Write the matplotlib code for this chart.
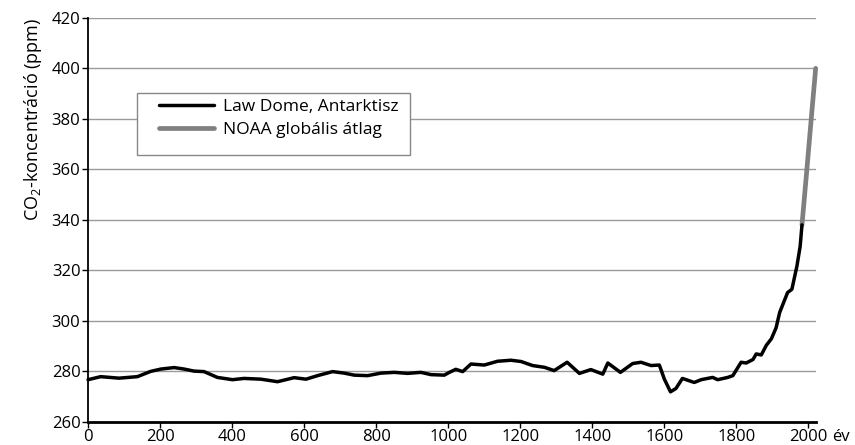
import matplotlib.pyplot as plt
from matplotlib.patches import Rectangle

plt.rcParams['font.family'] = ['Open Sans', 'DejaVu Sans']
plt.rcParams['mathtext.fontset'] = 'custom'
plt.rcParams['mathtext.rm'] = 'Open Sans'
plt.rcParams['mathtext.it'] = 'Open Sans:italic'

# Law Dome jégmag adatai
law_ev = [0, 35, 86, 137, 174, 202, 239, 267, 294, 322, 359, 401, 433, 480, 526,
          572, 605, 637, 679, 711, 739, 776, 813, 850, 887, 924, 952, 989, 1003,
          1021, 1040, 1063, 1100, 1137, 1174, 1202, 1234, 1267, 1294, 1330, 1364,
          1396, 1429, 1443, 1478, 1512, 1535, 1563, 1586, 1600, 1617, 1632, 1650,
          1683, 1702, 1734, 1748, 1776, 1790, 1813, 1827, 1846, 1855, 1869, 1883,
          1897, 1910, 1920, 1942, 1954, 1968, 1977, 1982]
law_co2 = [276.7, 277.9, 277.3, 277.9, 280.0, 280.9, 281.5, 280.9, 280.1, 279.9,
           277.6, 276.7, 277.2, 276.9, 275.9, 277.5, 276.9, 278.3, 279.9, 279.3,
           278.5, 278.3, 279.3, 279.6, 279.2, 279.6, 278.7, 278.5, 279.6, 280.8,
           279.9, 282.9, 282.5, 284.0, 284.4, 283.9, 282.3, 281.6, 280.3, 283.6,
           279.2, 280.7, 278.9, 283.3, 279.6, 283.1, 283.6, 282.3, 282.5, 276.9,
           271.9, 273.2, 277.2, 275.6, 276.7, 277.6, 276.7, 277.6, 278.3, 283.6,
           283.3, 284.7, 286.9, 286.5, 290.3, 292.9, 297.2, 303.3, 311.2, 312.5,
           321.7, 329.6, 338.0]

# NOAA globális átlag
noaa_ev = [1982, 1995, 2008, 2020]
noaa_co2 = [338.0, 359.0, 380.5, 400.0]

y_ticks = list(range(260, 421, 20))
x_ticks = list(range(0, 2001, 200))

fig = plt.figure(figsize=(8.55, 4.45), dpi=100)
ax = fig.add_axes([0.103, 0.052, 0.851, 0.908])

for y in y_ticks[1:]:
    ax.axhline(y, color='#9a9a9a', lw=1.0, zorder=1)

ax.plot(noaa_ev, noaa_co2, color='#808080', lw=3.4, solid_capstyle='round',
        label='NOAA globális átlag', zorder=3, clip_on=False)
ax.plot(law_ev, law_co2, color='black', lw=2.5, solid_joinstyle='round',
        solid_capstyle='round', label='Law Dome, Antarktisz', zorder=4, clip_on=False)

ax.set_xlim(0, 2020)
ax.set_ylim(260, 420)
ax.set_xticks(x_ticks)
ax.set_yticks(y_ticks)
ax.tick_params(axis='both', labelsize=12, direction='out', length=4, width=1,
               colors='black', pad=1.5)
ax.spines['top'].set_visible(False)
ax.spines['right'].set_visible(False)
ax.spines['left'].set_linewidth(1.3)
ax.spines['bottom'].set_linewidth(2.0)

# tengelyfelirat a tengely tetejéhez igazítva
ax.text(-0.0755, 1.0, 'CO$_2$-koncentráció (ppm)', fontsize=13, rotation=90,
        ha='center', va='top', transform=ax.transAxes)
# "év" a 2000-es felirat után
ax.annotate('év', xy=(2000, 260), xytext=(17, -5.5), textcoords='offset points',
            fontsize=12, ha='left', va='top', annotation_clip=False)

# jelmagyarázat kerete
ax.add_patch(Rectangle((0.0673, 0.661), 0.375, 0.153, transform=ax.transAxes,
                       facecolor='white', edgecolor='#888888', lw=1.0, zorder=5))
h, l = ax.get_legend_handles_labels()
leg = ax.legend(h[::-1], l[::-1], loc='upper left', bbox_to_anchor=(0.0975, 0.80),
                fontsize=12.5, frameon=False, handlelength=3.15, borderpad=0,
                labelspacing=0.4, handletextpad=0.55, borderaxespad=0)
leg.set_zorder(6)

fig.savefig('out.png', dpi=100)
